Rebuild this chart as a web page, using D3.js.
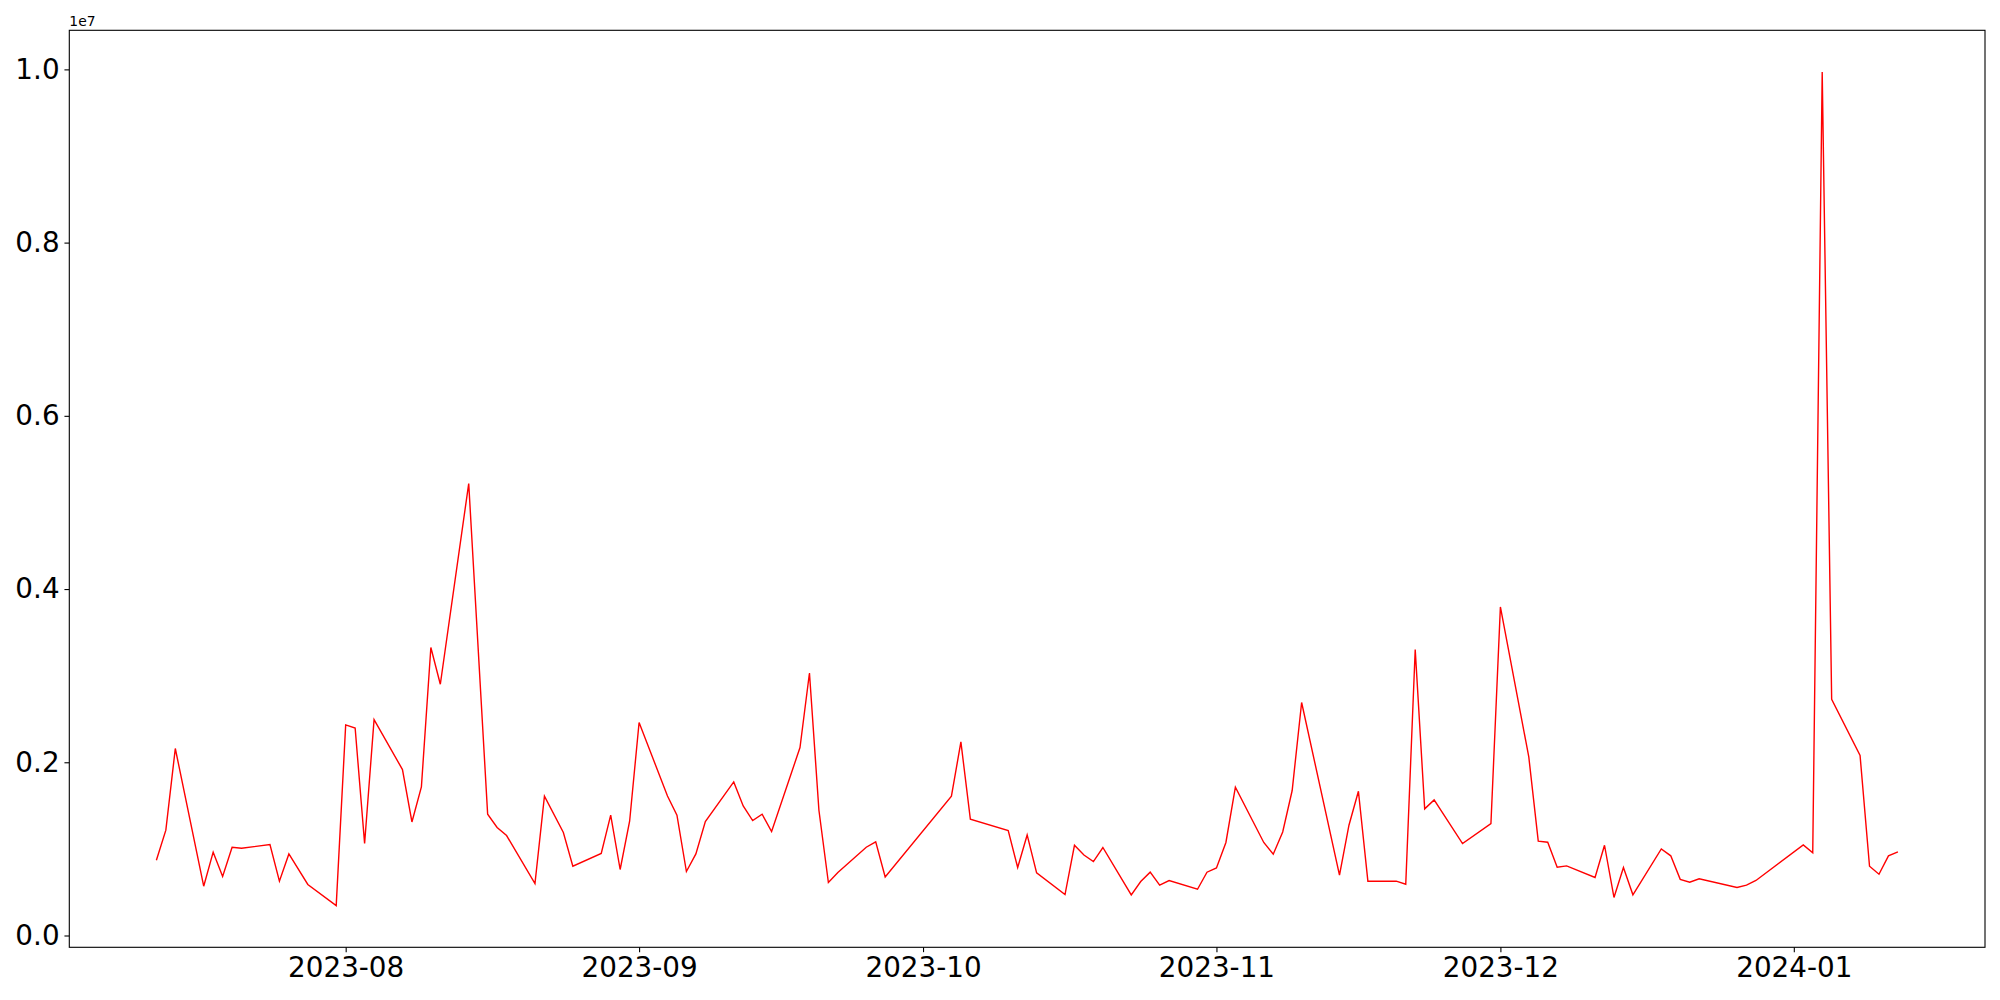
<!DOCTYPE html>
<html>
<head>
<meta charset="utf-8">
<script src="https://cdn.jsdelivr.net/npm/d3@7.9.0/dist/d3.min.js"></script>
<style>
  html, body { margin: 0; padding: 0; background: #fff; }
  svg { display: block; }
  .tick text { font-family: 'DejaVu Sans', sans-serif; fill: #000; }
</style>
</head>
<body>
<div id="chart"></div>
<script>
// trading days
const dates = [
  '2023-07-12', '2023-07-13', '2023-07-14', '2023-07-17', '2023-07-18', '2023-07-19', '2023-07-20', '2023-07-21',
  '2023-07-24', '2023-07-25', '2023-07-26', '2023-07-28', '2023-07-31',
  '2023-08-01', '2023-08-02', '2023-08-03', '2023-08-04', '2023-08-07', '2023-08-08', '2023-08-09', '2023-08-10',
  '2023-08-11', '2023-08-14', '2023-08-16', '2023-08-17', '2023-08-18', '2023-08-21', '2023-08-22', '2023-08-24',
  '2023-08-25', '2023-08-28', '2023-08-29', '2023-08-30', '2023-08-31',
  '2023-09-01', '2023-09-04', '2023-09-05', '2023-09-06', '2023-09-07', '2023-09-08', '2023-09-11', '2023-09-12',
  '2023-09-13', '2023-09-14', '2023-09-15', '2023-09-18', '2023-09-19', '2023-09-20', '2023-09-21', '2023-09-22',
  '2023-09-25', '2023-09-26', '2023-09-27',
  '2023-10-04', '2023-10-05', '2023-10-06', '2023-10-10', '2023-10-11', '2023-10-12', '2023-10-13', '2023-10-16',
  '2023-10-17', '2023-10-18', '2023-10-19', '2023-10-20', '2023-10-23', '2023-10-24', '2023-10-25', '2023-10-26',
  '2023-10-27', '2023-10-30', '2023-10-31',
  '2023-11-01', '2023-11-02', '2023-11-03', '2023-11-06', '2023-11-07', '2023-11-08', '2023-11-09', '2023-11-10',
  '2023-11-14', '2023-11-15', '2023-11-16', '2023-11-17', '2023-11-20', '2023-11-21', '2023-11-22', '2023-11-23',
  '2023-11-24', '2023-11-27', '2023-11-30',
  '2023-12-01', '2023-12-04', '2023-12-05', '2023-12-06', '2023-12-07', '2023-12-08', '2023-12-11', '2023-12-12',
  '2023-12-13', '2023-12-14', '2023-12-15', '2023-12-18', '2023-12-19', '2023-12-20', '2023-12-21', '2023-12-22',
  '2023-12-26', '2023-12-27', '2023-12-28',
  '2024-01-02', '2024-01-03', '2024-01-04', '2024-01-05', '2024-01-08', '2024-01-09', '2024-01-10', '2024-01-11',
  '2024-01-12'
];

const values = [
  869000, 1216000, 2159000, 569000, 962000, 681000, 1019000, 1008000,
  1050000, 627000, 942000, 589000, 345000,
  2431000, 2396000, 1062000, 2493000, 1916000, 1311000, 1715000, 3325000,
  2901000, 5218000, 1400000, 1247000, 1154000, 600000, 1608000, 1189000,
  800000, 947000, 1389000, 762000, 1319000,
  2459000, 1611000, 1389000, 739000, 942000, 1316000, 1773000, 1496000,
  1327000, 1400000, 1200000, 2170000, 3031000, 1446000, 612000, 727000,
  1019000, 1081000, 676000,
  1608000, 2235000, 1342000, 1212000, 785000, 1161000, 723000, 473000,
  1042000, 930000, 854000, 1016000, 469000, 623000, 731000, 581000,
  635000, 534000, 731000,
  780000, 1074000, 1712000, 1074000, 938000, 1196000, 1674000, 2690000,
  696000, 1273000, 1666000, 627000, 627000, 592000, 3301000, 1462000,
  1565000, 1062000, 1293000,
  3793000, 2062000, 1089000, 1077000, 788000, 804000, 670000, 1042000,
  439000, 785000, 470000, 1000000, 920000, 648000, 615000, 655000,
  555000, 582000, 635000,
  1046000, 954000, 9970000, 2728000, 2079000, 800000, 707000, 920000,
  966000
];

const yTicks = [0, 2e6, 4e6, 6e6, 8e6, 1e7];

const width = 2000;
const height = 1000;
const margin = { top: 30.3, right: 15, bottom: 52.7, left: 69.3 };

const parseDate = d3.timeParse('%Y-%m-%d');
const data = dates.map((d, i) => ({ date: parseDate(d), value: values[i] }));

function renderChart(data) {
  const svg = d3
    .select('#chart')
    .append('svg')
    .attr('width', width)
    .attr('height', height);

  const usable = {
    left: margin.left,
    right: width - margin.right,
    top: margin.top,
    bottom: height - margin.bottom,
  };

  // matplotlib style 5% padding on both axes
  const [t0, t1] = d3.extent(data, (d) => d.date);
  const padT = (t1 - t0) * 0.05;
  const xScale = d3.scaleTime()
    .domain([new Date(+t0 - padT), new Date(+t1 + padT)])
    .range([usable.left, usable.right]);

  const [v0, v1] = d3.extent(data, (d) => d.value);
  const padV = (v1 - v0) * 0.05;
  const yScale = d3.scaleLinear()
    .domain([v0 - padV, v1 + padV])
    .range([usable.bottom, usable.top]);

  const tickLen = 4.86;

  // x axis
  const xAxis = d3.axisBottom(xScale)
    .ticks(d3.timeMonth.every(1))
    .tickFormat(d3.timeFormat('%Y-%m'))
    .tickSize(tickLen)
    .tickSizeOuter(0)
    .tickPadding(4.86);
  const gx = svg.append('g')
    .attr('transform', `translate(0, ${usable.bottom})`)
    .call(xAxis);

  // y axis, values shown in units of 1e7
  const yAxis = d3.axisLeft(yScale)
    .tickValues(yTicks)
    .tickFormat((d) => (d / 1e7).toFixed(1))
    .tickSize(tickLen)
    .tickSizeOuter(0)
    .tickPadding(4.86);
  const gy = svg.append('g')
    .attr('transform', `translate(${usable.left}, 0)`)
    .call(yAxis);

  [gx, gy].forEach((g) => {
    g.select('.domain').remove();
    g.selectAll('.tick line').attr('stroke', '#000').attr('stroke-width', 1.1);
    g.selectAll('.tick text').style('font-size', '27.8px').attr('fill', '#000');
  });

  // the line
  const line = d3.line()
    .x((d) => xScale(d.date))
    .y((d) => yScale(d.value));

  svg.append('path')
    .datum(data)
    .attr('fill', 'none')
    .attr('stroke', 'red')
    .attr('stroke-width', 1.4)
    .attr('stroke-linejoin', 'miter')
    .attr('d', line);

  // frame round the axes
  svg.append('rect')
    .attr('x', usable.left)
    .attr('y', usable.top)
    .attr('width', usable.right - usable.left)
    .attr('height', usable.bottom - usable.top)
    .attr('fill', 'none')
    .attr('stroke', '#000')
    .attr('stroke-width', 1.1);

  // offset label
  svg.append('text')
    .attr('x', usable.left)
    .attr('y', usable.top - 4.5)
    .style('font-family', "'DejaVu Sans', sans-serif")
    .style('font-size', '13.9px')
    .attr('fill', '#000')
    .text('1e7');
}

renderChart(data);
</script>
</body>
</html>
